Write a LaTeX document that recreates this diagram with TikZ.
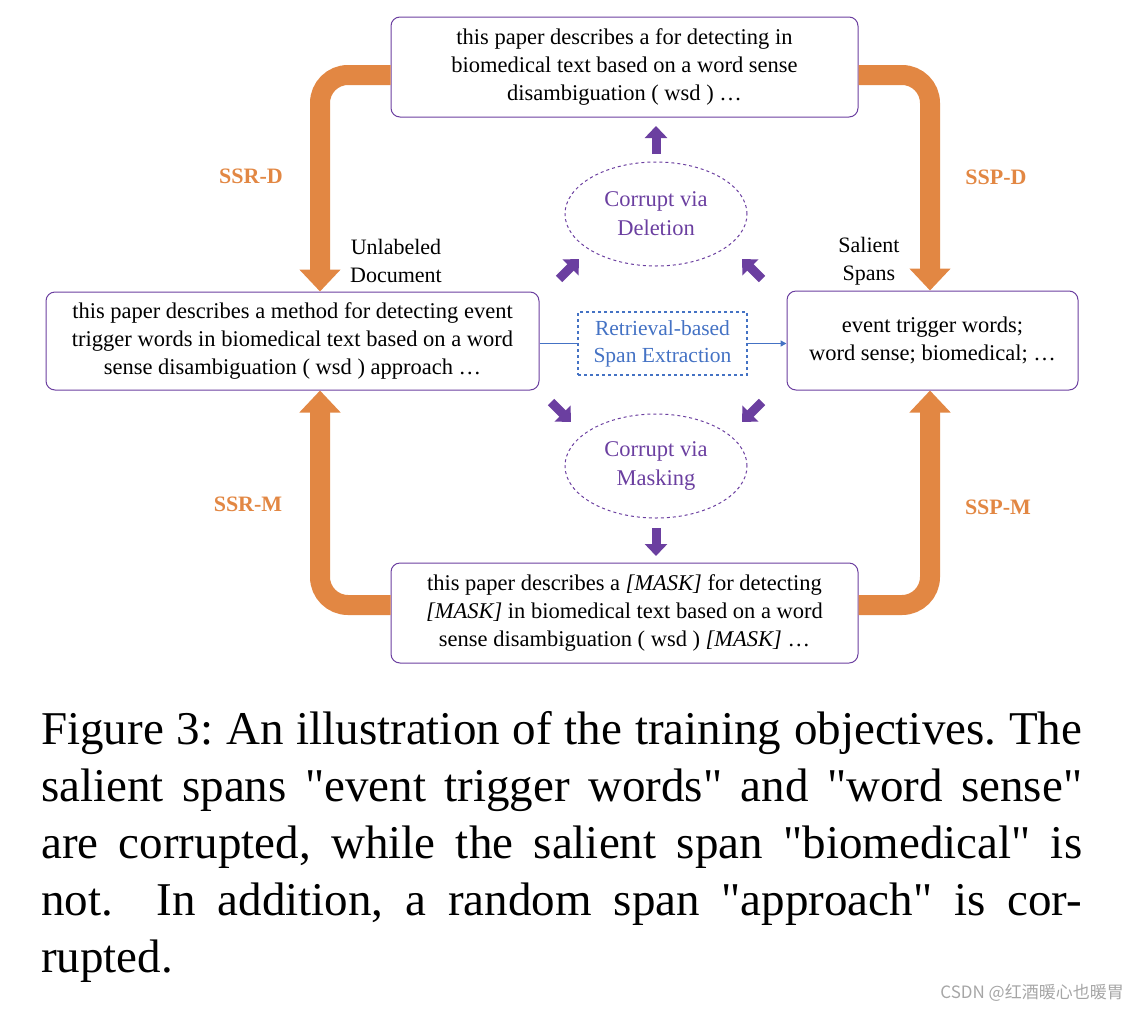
\documentclass[tikz,border=0pt]{standalone}
\usepackage{fontspec}
\setmainfont{Liberation Serif}
\newfontfamily\capfont[Ligatures=TeXReset]{Liberation Serif}
\newfontfamily\cjk{Noto Sans CJK SC}
\usetikzlibrary{arrows.meta,shapes.geometric}
\definecolor{pur}{HTML}{6B3FA0}
\definecolor{org}{HTML}{E28743}
\definecolor{blu}{HTML}{4472C4}
\begin{document}
\begin{tikzpicture}[x=1pt,y=-1pt,
 box/.style={draw=pur,line width=1pt,rounded corners=9pt,align=center,font=\fontsize{22.5}{28}\selectfont,inner sep=0pt},
 ell/.style={draw=pur,dashed,line width=1pt,ellipse,minimum width=182pt,minimum height=104pt,text=pur,align=center,font=\fontsize{22.5}{29}\selectfont},
 big/.style={org,line width=20pt,rounded corners=28pt,-{Triangle[width=40pt,length=22pt]}},
 pa/.style={pur,line width=9pt,-{Triangle[width=22pt,length=12pt]}},
 lab/.style={org,font=\fontsize{22}{24}\selectfont\bfseries},
 blab/.style={align=center,font=\fontsize{22}{28}\selectfont}]
\useasboundingbox (0,0) rectangle (1138,1010);
\node[box,minimum width=467pt,minimum height=100pt] (top) at (624.5,67) {this paper describes a for detecting in\\biomedical text based on a word sense\\disambiguation ( wsd ) …};
\node[box,minimum width=493pt,minimum height=98pt] (left) at (292.5,341) {this paper describes a method for detecting event\\trigger words in biomedical text based on a word\\sense disambiguation ( wsd ) approach …};
\node[box,minimum width=291pt,minimum height=99pt] (right) at (932.5,340.5) {event trigger words;\\word sense; biomedical; …};
\node[box,minimum width=467pt,minimum height=100pt] (bot) at (624.5,613) {this paper describes a \textit{[MASK]} for detecting\\\textit{[MASK]} in biomedical text based on a word\\sense disambiguation ( wsd ) \textit{[MASK]} …};
\node[ell] (e1) at (656,214) {Corrupt via\\Deletion};
\node[ell] (e2) at (656,466) {Corrupt via\\Masking};
\node[draw=blu,dashed,line width=1.2pt,minimum width=169pt,minimum height=63pt,text=blu,align=center,font=\fontsize{21.5}{27}\selectfont,inner sep=0pt] (ret) at (662.5,343.5) {Retrieval-based\\Span Extraction};
\draw[blu,line width=1.5pt] (left.east |- ret.west) -- (ret.west);
\draw[blu,line width=1.5pt,-{Triangle[width=6pt,length=6pt]}] (ret.east) -- (right.west |- ret.east);
\coordinate (u1) at (656,154); \coordinate (u2) at (656,126);
\draw[pa] (u1) -- (u2);
\coordinate (d1) at (656,528); \coordinate (d2) at (656,556);
\draw[pa] (d1) -- (d2);
\coordinate (a1) at (559,279); \coordinate (a2) at (579,259);
\draw[pa] (a1) -- (a2);
\coordinate (b1) at (762,279); \coordinate (b2) at (742,259);
\draw[pa] (b1) -- (b2);
\coordinate (c1) at (551,402); \coordinate (c2) at (571,422);
\draw[pa] (c1) -- (c2);
\coordinate (f1) at (762,402); \coordinate (f2) at (742,422);
\draw[pa] (f1) -- (f2);
\draw[big] (top.west |- 0,75) -- (320,75) -- (left.north -| 320,0);
\draw[big] (bot.west |- 0,605) -- (320,605) -- (left.south -| 320,0);
\draw[big] (top.east |- 0,75) -- (930,75) -- (right.north -| 930,0);
\draw[big] (bot.east |- 0,605) -- (930,605) -- (right.south -| 930,0);
\node[lab] (l1) at (251,176) {SSR-D};
\node[lab] (l2) at (248,504) {SSR-M};
\node[lab] (l3) at (996,177) {SSP-D};
\node[lab] (l4) at (998,507) {SSP-M};
\node[blab] (t1) at (396,261) {Unlabeled\\Document};
\node[blab] (t2) at (869,261) {Salient\\Spans};
\node[anchor=north west,text width=1041pt,inner sep=0pt,align=justify,font=\capfont\fontsize{47}{57}\selectfont] (cap) at (41,711) {\frenchspacing Figure 3: An illustration of the training objectives. The\linebreak salient spans "event trigger words" and "word sense"\linebreak are corrupted, while the salient span "biomedical" is\linebreak not.\ \ In addition, a random span "approach" is cor-\linebreak rupted.};
\node[anchor=south east,text=gray!70,font=\cjk\fontsize{17}{20}\selectfont,inner sep=0pt] (wm) at (1124,1002) {CSDN @红酒暖心也暖胃};
\end{tikzpicture}
\end{document}
